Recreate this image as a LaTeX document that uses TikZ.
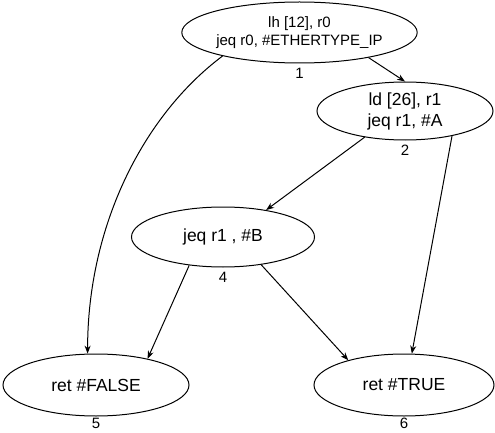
\documentclass[tikz,border=0pt]{standalone}
\usepackage{fontspec}
\setmainfont{Liberation Sans}
\usetikzlibrary{shapes.geometric,positioning,arrows.meta}

\begin{document}
\begin{tikzpicture}[x=1pt, y=-1pt, line width=1pt,
    bloque/.style={ellipse, draw, inner sep=0pt, align=center, font=\fontsize{17.5}{21}\selectfont},
    etiq/.style={inner sep=0pt, font=\fontsize{15}{15}\selectfont},
    flecha/.style={-{Stealth[length=8pt, width=6pt]}}]
    \useasboundingbox (0,0) rectangle (495,433);

    % Definición de los nodos
    \node[bloque, minimum width=185pt, minimum height=61pt, font=\fontsize{15}{18}\selectfont] (n1) at (299.5,32.5) {lh [12], r0\\jeq r0, \#ETHERTYPE\_IP};
    \node[bloque, minimum width=176pt, minimum height=58pt] (n2) at (405,111) {ld [26], r1\\jeq r1, \#A};
    \node[bloque, minimum width=183pt, minimum height=60pt] (n4) at (223,237) {jeq r1 , \#B};
    \node[bloque, minimum width=186pt, minimum height=62pt] (n5) at (96,385) {ret \#FALSE};
    \node[bloque, minimum width=180pt, minimum height=62pt] (n6) at (404,385) {ret \#TRUE};

    % Números de cada nodo
    \node[etiq, below=4pt of n1] (e1) {1};
    \node[etiq, below=4pt of n2] (e2) {2};
    \node[etiq, below=4pt of n4] (e4) {4};
    \node[etiq, below=1.5pt of n5] (e5) {5};
    \node[etiq, below=1.5pt of n6] (e6) {6};

    % Definición de las aristas
    \draw[flecha] (n1.-20) -- (n2.north);
    \draw[flecha] (n1.197) .. controls +(-80,60) and +(0,-127) .. (n5.105);
    \draw[flecha] (n2.213) -- (n4.32);
    \draw[flecha] (n2.-28) -- (n6.76);
    \draw[flecha] (n4.220) -- (n5.27);
    \draw[flecha] (n4.-36) -- (n6.156);
\end{tikzpicture}
\end{document}
